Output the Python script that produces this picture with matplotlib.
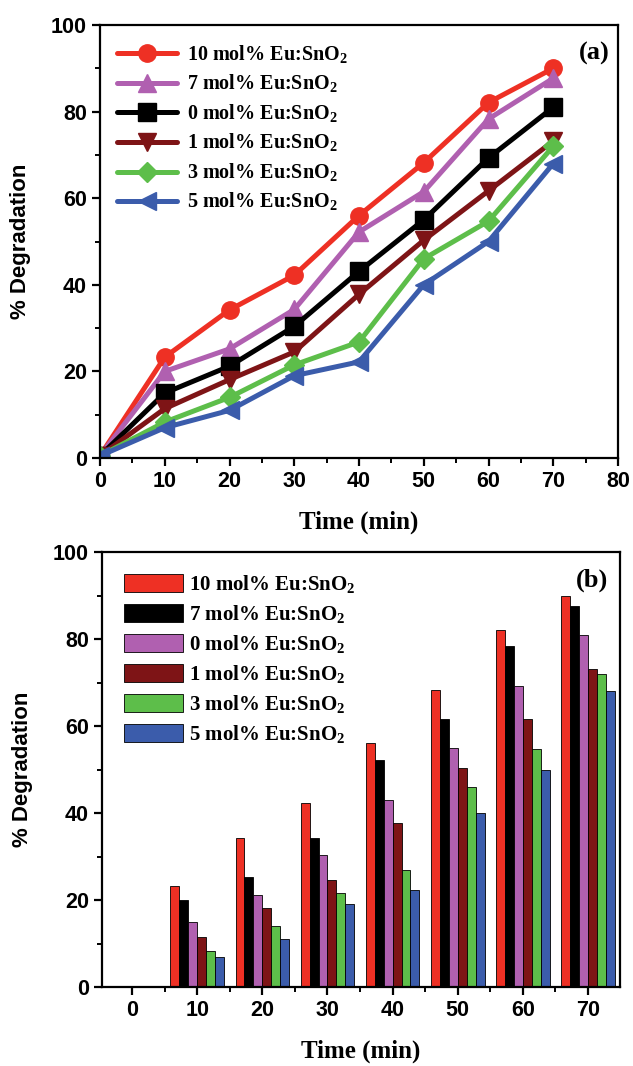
import matplotlib
matplotlib.use("Agg")
import matplotlib.pyplot as plt
import numpy as np
from matplotlib.ticker import MultipleLocator, FixedLocator

# ---------------- data ----------------
time_min = [0, 10, 20, 30, 40, 50, 60, 70]
labels = ["10 mol% Eu:SnO$_\\mathbf{2}$", "7 mol% Eu:SnO$_\\mathbf{2}$", "0 mol% Eu:SnO$_\\mathbf{2}$",
          "1 mol% Eu:SnO$_\\mathbf{2}$", "3 mol% Eu:SnO$_\\mathbf{2}$", "5 mol% Eu:SnO$_\\mathbf{2}$"]
deg_10 = [0.5, 23.3, 34.2, 42.2, 56.0, 68.2, 82.1, 90.0]
deg_7 = [0.5, 20.0, 25.2, 34.3, 52.2, 61.5, 78.3, 87.7]
deg_0 = [0.5, 15.0, 21.2, 30.4, 43.1, 55.0, 69.3, 81.0]
deg_1 = [0.5, 11.4, 18.1, 24.5, 37.8, 50.3, 61.7, 73.2]
deg_3 = [0.5, 8.3, 14.0, 21.5, 26.8, 46.0, 54.7, 72.0]
deg_5 = [0.5, 7.0, 11.0, 19.0, 22.2, 40.0, 50.0, 68.0]
series = [deg_10, deg_7, deg_0, deg_1, deg_3, deg_5]

line_colors = ["#EE3024", "#B060B0", "#000000", "#7E1416", "#5DBE4A", "#3B5CAB"]
markers = ["o", "^", "s", "v", "D", "<"]
# panel (b) uses a different colour order in its legend
bar_colors = ["#EE3024", "#000000", "#B060B0", "#7E1416", "#5DBE4A", "#3B5CAB"]
bar_labels = ["10 mol% Eu:SnO$_\\mathbf{2}$", "7 mol% Eu:SnO$_\\mathbf{2}$", "0 mol% Eu:SnO$_\\mathbf{2}$",
              "1 mol% Eu:SnO$_\\mathbf{2}$", "3 mol% Eu:SnO$_\\mathbf{2}$", "5 mol% Eu:SnO$_\\mathbf{2}$"]

serif = "Liberation Serif"
sans = "Liberation Sans"
plt.rcParams["mathtext.fontset"] = "custom"
plt.rcParams["mathtext.rm"] = "Liberation Serif:bold"
plt.rcParams["mathtext.bf"] = "Liberation Serif:bold"

fig = plt.figure(figsize=(6.33, 10.66), dpi=100)

W, H = 633, 1066
def ax_rect(l, r, t, b):
    return [l / W, 1 - b / H, (r - l) / W, (b - t) / H]

# ---------------- panel (a) ----------------
ax1 = fig.add_axes(ax_rect(100, 618, 25, 458))
for vals, c, m, lab in zip(series, line_colors, markers, labels):
    ax1.plot(time_min, vals, color=c, marker=m, lw=3.6, ms=12.5 if m != "D" else 10,
             label=lab, solid_capstyle="round")
ax1.set_xlim(0, 80)
ax1.set_ylim(0, 100)
ax1.xaxis.set_major_locator(MultipleLocator(10))
ax1.xaxis.set_minor_locator(MultipleLocator(5))
ax1.yaxis.set_major_locator(MultipleLocator(20))
ax1.yaxis.set_minor_locator(MultipleLocator(10))
ax1.set_xlabel("Time (min)", fontfamily=serif, fontweight="bold", fontsize=18, labelpad=13)
ax1.set_ylabel("% Degradation", fontfamily=sans, fontweight="bold", fontsize=16, labelpad=14)
ax1.text(0.955, 0.935, "(a)", transform=ax1.transAxes, fontfamily=serif, fontweight="bold",
         fontsize=19, ha="center", va="center")
ax1.legend(loc="upper left", bbox_to_anchor=(0.005, 0.99), frameon=False,
           prop={"family": serif, "weight": "bold", "size": 14.5},
           handlelength=3.0, labelspacing=0.36, borderaxespad=0.3, handletextpad=0.5)

# ---------------- panel (b) ----------------
ax2 = fig.add_axes(ax_rect(102, 620, 552, 987))
x = np.arange(len(time_min))
bw = 0.137
bar_series = [deg_10, deg_7, deg_0, deg_1, deg_3, deg_5]
for i, (vals, c, lab) in enumerate(zip(bar_series, bar_colors, bar_labels)):
    h = [v if t > 0 else 0 for v, t in zip(vals, time_min)]
    ax2.bar(x + (i - 2.5) * bw, h, width=bw, color=c, edgecolor="black", linewidth=0.6, label=lab)
ax2.set_xlim(-0.46, 7.49)
ax2.set_ylim(0, 100)
ax2.set_xticks(x)
ax2.set_xticklabels([str(t) for t in time_min])
ax2.xaxis.set_minor_locator(FixedLocator(x[:-1] + 0.5))
ax2.yaxis.set_major_locator(MultipleLocator(20))
ax2.yaxis.set_minor_locator(MultipleLocator(10))
ax2.set_xlabel("Time (min)", fontfamily=serif, fontweight="bold", fontsize=18, labelpad=13)
ax2.set_ylabel("% Degradation", fontfamily=sans, fontweight="bold", fontsize=16, labelpad=14)
ax2.text(0.945, 0.935, "(b)", transform=ax2.transAxes, fontfamily=serif, fontweight="bold",
         fontsize=19, ha="center", va="center")
ax2.legend(loc="upper left", bbox_to_anchor=(0.015, 0.985), frameon=False,
           prop={"family": serif, "weight": "bold", "size": 15},
           handlelength=2.8, handleheight=0.95, labelspacing=0.36, borderaxespad=0.3,
           handletextpad=0.3)

for ax in (ax1, ax2):
    for s in ax.spines.values():
        s.set_linewidth(1.6)
    ax.tick_params(which="major", direction="out", length=6, width=1.6, labelsize=15.5)
    ax.tick_params(which="minor", direction="out", length=3.5, width=1.4)
    for lab in ax.get_xticklabels() + ax.get_yticklabels():
        lab.set_fontfamily(sans)
        lab.set_fontweight("bold")

fig.savefig("out.png", dpi=100)
